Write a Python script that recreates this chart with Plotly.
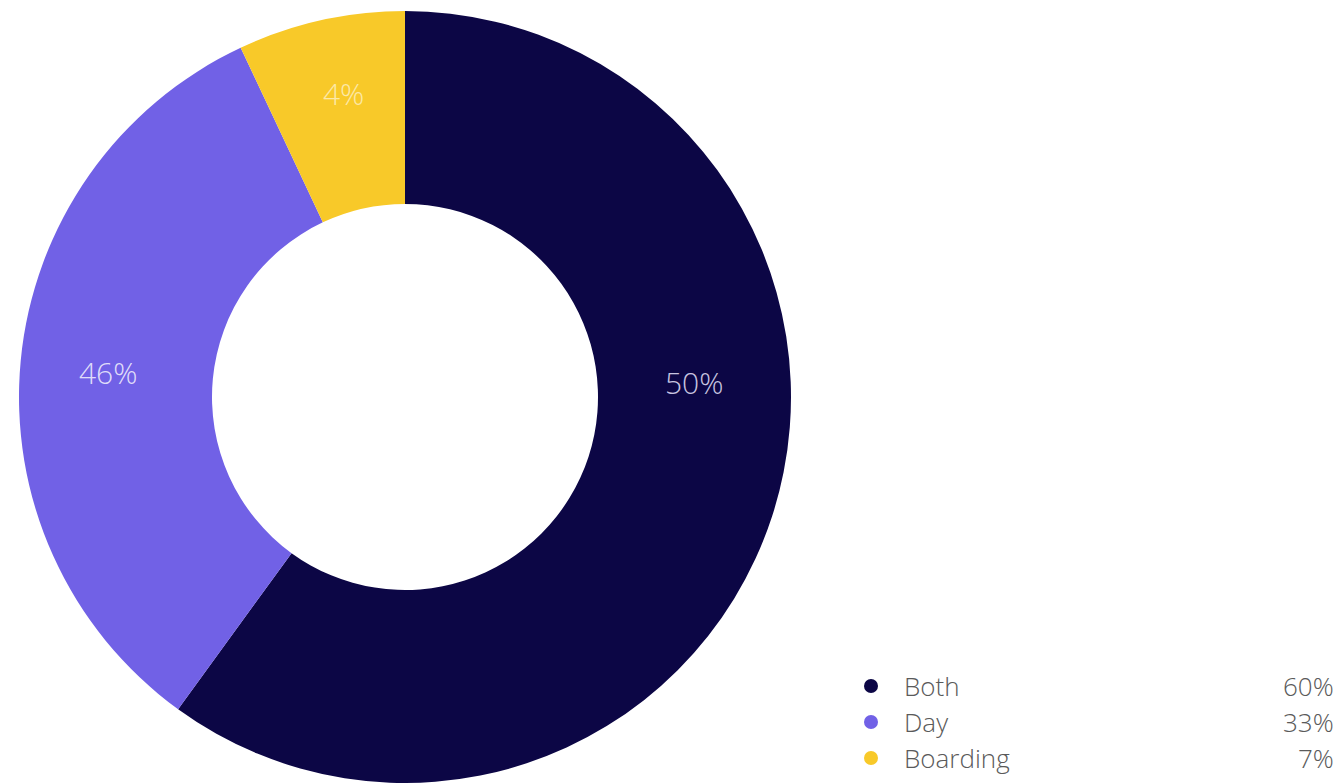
import plotly.graph_objects as go

# Share of students by attendance type
categories = ["Both", "Day", "Boarding"]
shares = [60, 33, 7]
slice_labels = ["50%", "46%", "4%"]
legend_values = ["60%", "33%", "7%"]
colors = ["#0c0645", "#7161e6", "#f8c929"]

W, H = 1341, 783
FONT = "Open Sans"

fig = go.Figure(
    go.Pie(
        labels=categories,
        values=shares,
        hole=0.5,
        sort=False,
        direction="clockwise",
        rotation=0,
        marker=dict(colors=colors, line=dict(width=0)),
        textinfo="none",
        hoverinfo="label+percent",
        showlegend=False,
        domain=dict(x=[19 / W, 791 / W], y=[0.0, 772 / H]),
    )
)

# In-slice labels (pixel positions converted to paper coordinates)
label_pos = [(694, 382), (108, 372), (343, 93)]
label_colors = ["rgba(235,232,255,0.85)", "rgba(255,255,255,0.8)", "rgba(255,255,255,0.6)"]
annotations = []
for txt, (px, py), c in zip(slice_labels, label_pos, label_colors):
    annotations.append(
        dict(
            x=px / W, y=1 - py / H, xref="paper", yref="paper",
            text=txt, showarrow=False,
            font=dict(family=FONT, size=30, color=c, weight=300),
            xanchor="center", yanchor="middle",
        )
    )

# Custom legend with right-aligned values
shapes = []
row_y = [686, 722, 758]
for name, val, col, ry in zip(categories, legend_values, colors, row_y):
    yp = 1 - ry / H
    shapes.append(
        dict(
            type="circle", xref="paper", yref="paper",
            xsizemode="pixel", ysizemode="pixel",
            xanchor=871 / W, yanchor=yp,
            x0=-7, x1=7, y0=-7, y1=7,
            fillcolor=col, line=dict(width=0),
        )
    )
    annotations.append(
        dict(
            x=902 / W, y=yp, xref="paper", yref="paper",
            text=name, showarrow=False,
            font=dict(family=FONT, size=26, color="#5a5a5a", weight=300),
            xanchor="left", yanchor="middle",
        )
    )
    annotations.append(
        dict(
            x=1336 / W, y=yp, xref="paper", yref="paper",
            text=val, showarrow=False,
            font=dict(family=FONT, size=26, color="#5a5a5a", weight=300),
            xanchor="right", yanchor="middle",
        )
    )

fig.update_layout(
    width=W, height=H,
    margin=dict(l=0, r=0, t=0, b=0),
    paper_bgcolor="white",
    plot_bgcolor="white",
    annotations=annotations,
    shapes=shapes,
)

fig.write_html("out.html")
